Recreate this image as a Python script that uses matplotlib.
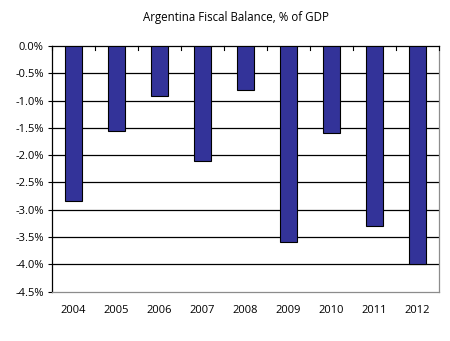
import matplotlib
matplotlib.use("Agg")
import matplotlib.pyplot as plt
import numpy as np

years = ["2004", "2005", "2006", "2007", "2008", "2009", "2010", "2011", "2012"]
balance = [-2.85, -1.56, -0.92, -2.10, -0.81, -3.60, -1.60, -3.30, -4.00]
yticks = [0.0, -0.5, -1.0, -1.5, -2.0, -2.5, -3.0, -3.5, -4.0, -4.5]

plt.rcParams['font.family'] = ['Open Sans', 'DejaVu Sans']

fig = plt.figure(figsize=(4.5, 3.41), dpi=100)
ax = fig.add_axes([52/450, 1-291.5/341, (439-52)/450, (291.5-46)/341])

x = np.arange(len(years))
ax.bar(x, balance, width=0.4, color="#333399", edgecolor="black", linewidth=0.8, zorder=3)

ax.set_xlim(-0.5, len(years)-0.5)
ax.set_ylim(-4.5, 0)
ax.set_yticks(yticks)
ax.set_yticklabels([f"{v:.1f}%" for v in yticks], fontsize=8)
for v in yticks[1:-1]:
    ax.axhline(v, color="black", linewidth=0.9, zorder=1)

ax.set_xticks(x)
ax.set_xticklabels(years, fontsize=8)
ax.tick_params(axis='x', length=0, pad=10)
ax.tick_params(axis='y', length=3, direction='out', width=0.8, pad=3)

# category boundary ticks on the zero line
for b in np.arange(-0.5, len(years)):
    ax.plot([b, b], [0, -0.07], color="black", linewidth=0.8, zorder=4, clip_on=False)

for s in ['right', 'bottom']:
    ax.spines[s].set_color("#8c8c8c")
ax.spines['top'].set_color("black")
ax.spines['left'].set_color("black")
for s in ax.spines.values():
    s.set_linewidth(0.9)

fig.text(236/450, 1-17/341, "Argentina Fiscal Balance, % of GDP", ha="center", va="center", fontsize=8.3)

fig.savefig("out.png", dpi=100)
